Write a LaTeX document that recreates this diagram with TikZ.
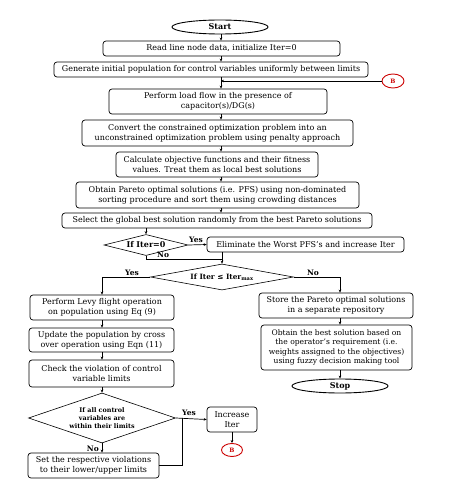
\documentclass[tikz,border=0pt]{standalone}
\usepackage{fontspec}
\setmainfont{DejaVu Serif}
\usetikzlibrary{shapes.geometric,arrows.meta}
\begin{document}
\begin{tikzpicture}[x=1pt,y=-1pt,
 box/.style={draw, rounded corners=3pt, line width=0.7pt, align=center, inner sep=0pt, font=\fontsize{8}{10}\selectfont},
 term/.style={draw, ellipse, line width=0.9pt, inner sep=0pt, font=\bfseries\fontsize{8}{9}\selectfont},
 dec/.style={draw, diamond, line width=0.6pt, inner sep=0pt, align=center, font=\bfseries\fontsize{7.3}{8}\selectfont},
 dec3/.style={dec, font=\bfseries\fontsize{6.4}{8}\selectfont},
 conn/.style={draw=red!80!black, ellipse, line width=0.9pt, inner sep=0pt, text=red!80!black, font=\bfseries\fontsize{6}{7}\selectfont},
 arr/.style={-{Stealth[length=3pt,width=2.6pt]}, line width=0.7pt},
 ln/.style={line width=0.7pt},
 lab/.style={font=\bfseries\fontsize{7.5}{8}\selectfont, inner sep=0pt}]
\useasboundingbox[fill=white] (0,0) rectangle (449,484);
\coordinate (mx) at (221,0);
\coordinate (rx) at (340,0);
% main column
\node[term, minimum width=96pt, minimum height=14pt] (start) at (220,27) {Start};
\node[box, minimum width=237pt, minimum height=15pt] (read) at (221.5,48.5) {Read line node data, initialize Iter=0};
\node[box, minimum width=314pt, minimum height=15pt] (gen) at (211,69.5) {Generate initial population for control variables uniformly between limits};
\node[conn, minimum width=22pt, minimum height=14pt] (B1) at (393,81) {B};
\node[box, minimum width=218pt, minimum height=25pt] (load) at (218,101.5) {Perform load flow in the presence of\\capacitor(s)/DG(s)};
\node[box, minimum width=271pt, minimum height=26pt] (conv) at (217.5,133) {Convert the constrained optimization problem into an\\unconstrained optimization problem using penalty approach};
\node[box, minimum width=202pt, minimum height=25pt] (calc) at (217,164.5) {Calculate objective functions and their fitness\\values. Treat them as local best solutions};
\node[box, minimum width=283pt, minimum height=26pt] (pareto) at (217.5,195) {Obtain Pareto optimal solutions (i.e. PFS) using non-dominated\\sorting procedure and sort them using crowding distances};
\node[box, minimum width=310pt, minimum height=15pt] (select) at (217,220.5) {Select the global best solution randomly from the best Pareto solutions};
\node[dec, minimum width=84pt, minimum height=21pt, aspect=4, font=\bfseries\fontsize{8}{9}\selectfont] (d1) at (146,245) {If Iter=0};
\node[box, minimum width=197pt, minimum height=15pt] (elim) at (305.5,244.5) {Eliminate the Worst PFS's and increase Iter};
\node[dec, minimum width=143pt, minimum height=26pt, aspect=5.5] (d2) at (222,277) {If Iter ≤ Iter\textsubscript{max}};
% left column
\node[box, minimum width=144pt, minimum height=25pt] (levy) at (102,307.5) {Perform Levy flight operation\\on population using Eq (9)};
\node[box, minimum width=145pt, minimum height=24pt] (update) at (101.5,340) {Update the population by cross\\over operation using Eqn (11)};
\node[box, minimum width=145pt, minimum height=27pt] (check) at (101.5,373.5) {Check the violation of control\\variable limits};
\node[dec3, minimum width=147pt, minimum height=50pt, aspect=2.9] (d3) at (102,418) {If all control\\variables are\\within their limits};
\node[box, minimum width=131pt, minimum height=25pt] (set) at (93.5,465.5) {Set the respective violations\\to their lower/upper limits};
\node[box, minimum width=50pt, minimum height=25pt] (inc) at (232,419.5) {Increase\\Iter};
\node[conn, minimum width=21pt, minimum height=13pt] (B2) at (232,450) {B};
% right column
\node[box, minimum width=154pt, minimum height=25pt] (store) at (336,305.5) {Store the Pareto optimal solutions\\in a separate repository};
\node[box, minimum width=151pt, minimum height=45pt, font=\fontsize{7.6}{9.5}\selectfont] (best) at (336.5,347.5) {Obtain the best solution based on\\the operator's requirement (i.e.\\weights assigned to the objectives)\\using fuzzy decision making tool};
\node[term, minimum width=96pt, minimum height=14pt] (stop) at (340,386) {Stop};
% connectors
\draw[arr] (start.south -| mx) -- (read.north -| mx);
\draw[arr] (read.south -| mx) -- (gen.north -| mx);
\draw[arr] (gen.south -| mx) -- (load.north -| mx);
\draw[arr] (B1.west) -- (B1.west -| mx);
\draw[arr] (load.south -| mx) -- (conv.north -| mx);
\draw[arr] (conv.south -| mx) -- (calc.north -| mx);
\draw[arr] (calc.south -| mx) -- (pareto.north -| mx);
\draw[arr] (pareto.south -| mx) -- (select.north -| mx);
\draw[arr] (select.south -| d1.north) -- (d1.north);
\draw[arr] (d1.east) -- (elim.west);
\node[lab, anchor=south] (y1) at (196,243) {Yes};
\coordinate (j1) at (222,259);
\draw[ln] (d1.south) |- (j1);
\node[lab, anchor=south west] (n1) at (157,258.3) {No};
\draw[arr] (elim.south -| j1) -- (d2.north);
\draw[arr] (d2.west) -| (levy.north -| d3.north);
\node[lab, anchor=south] (y2) at (132,276) {Yes};
\draw[arr] (d2.east) -| (store.north -| rx);
\node[lab, anchor=south] (n2) at (313,276) {No};
\draw[arr] (levy.south -| d3.north) -- (update.north -| d3.north);
\draw[arr] (update.south -| d3.north) -- (check.north -| d3.north);
\draw[arr] (check.south -| d3.north) -- (d3.north);
\draw[arr] (store.south -| rx) -- (best.north -| rx);
\draw[arr] (best.south -| rx) -- (stop.north);
\draw[arr] (d3.east) -- (inc.west);
\node[lab, anchor=south] (y3) at (189,416) {Yes};
\draw[arr] (d3.south) -- (set.north -| d3.south);
\node[lab, anchor=east] (n3) at (99,449) {No};
\coordinate (j2) at (182,418);
\draw[ln] (set.east) -| (j2);
\draw[arr] (inc.south) -- (B2.north);
\end{tikzpicture}
\end{document}
